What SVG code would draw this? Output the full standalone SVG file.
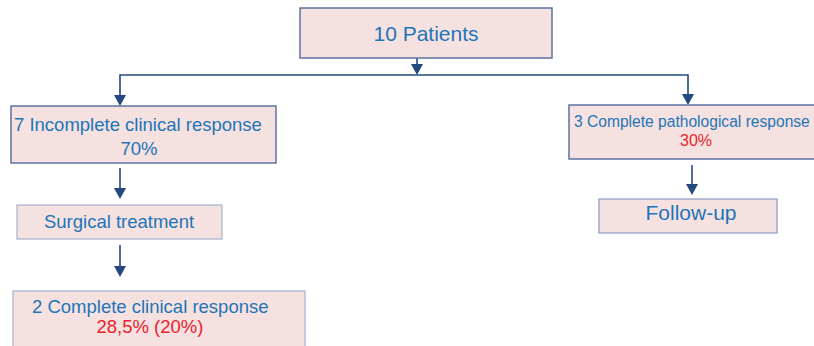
<svg xmlns="http://www.w3.org/2000/svg" width="814" height="346" viewBox="0 0 814 346">
<defs>
<style>
.box{fill:#f5e2e0;stroke:#5b73a3;stroke-width:1.5}
.lbox{fill:#f5e2e0;stroke:#a9b7d1;stroke-width:1.3}
.t{font-family:"Liberation Sans",Arial,sans-serif;fill:#1f74b8}
.r{fill:#e8232d}
.c{fill:none;stroke:#23497f;stroke-width:1.6}
.ah{fill:#23497f}
</style>
</defs>
<g id="connectors">
<line class="c" x1="417" y1="58" x2="417" y2="66"/>
<polygon class="ah" points="411,64 423,64 417,75"/>
<polyline class="c" points="120,98 120,75 688,75 688,97"/>
<polygon class="ah" points="114,95 126,95 120,106"/>
<polygon class="ah" points="682,94 694,94 688,105"/>
<line class="c" x1="120" y1="168" x2="120" y2="192"/>
<polygon class="ah" points="114,188 126,188 120,199"/>
<line class="c" x1="692" y1="165" x2="692" y2="188"/>
<polygon class="ah" points="686,184 698,184 692,195"/>
<line class="c" x1="120" y1="245" x2="120" y2="270"/>
<polygon class="ah" points="114,266 126,266 120,277"/>
</g>
<g id="n_patients">
<rect class="box" x="300" y="8" width="252" height="50"/>
<text class="t" x="426" y="40.5" font-size="21" text-anchor="middle">10 Patients</text>
</g>
<g id="n_incomplete">
<rect class="box" x="11" y="106" width="265" height="57"/>
<text class="t" x="14" y="131" font-size="18.5">7 Incomplete clinical response</text>
<text class="t" x="139" y="155" font-size="18.5" text-anchor="middle">70%</text>
</g>
<g id="n_pathological">
<rect class="box" x="569" y="105" width="260" height="54"/>
<text class="t" x="574" y="127" font-size="15.6">3 Complete pathological response</text>
<text class="t r" x="696" y="146" font-size="16" text-anchor="middle">30%</text>
</g>
<g id="n_surgical">
<rect class="lbox" x="17" y="205" width="205" height="34"/>
<text class="t" x="119" y="228" font-size="18.5" text-anchor="middle">Surgical treatment</text>
</g>
<g id="n_followup">
<rect class="lbox" x="599" y="199" width="178" height="34" style="stroke:#8fa2c6"/>
<text class="t" x="691" y="220" font-size="21" text-anchor="middle">Follow-up</text>
</g>
<g id="n_complete_clinical">
<rect class="lbox" x="13" y="291" width="292" height="58"/>
<text class="t" x="32" y="313" font-size="18.5">2 Complete clinical response</text>
<text class="t r" x="150" y="333" font-size="18.5" text-anchor="middle">28,5% (20%)</text>
</g>
</svg>
